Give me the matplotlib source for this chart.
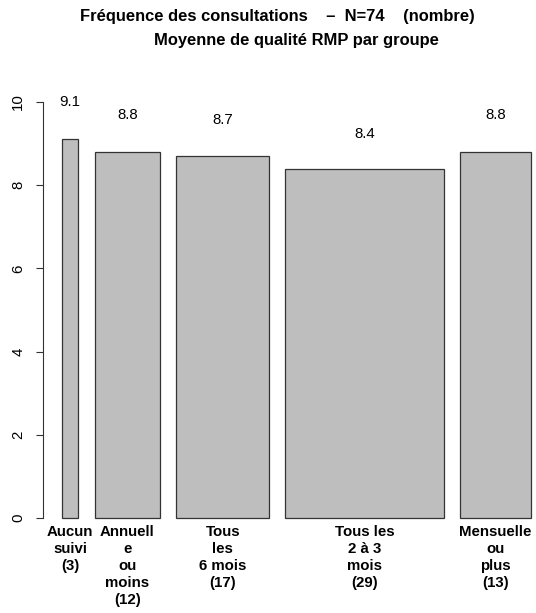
import matplotlib
matplotlib.use("Agg")
import matplotlib.pyplot as plt
import numpy as np

plt.rcParams['font.family'] = ['Liberation Sans', 'DejaVu Sans']

categories = ["Aucun\nsuivi\n(3)", "Annuell\ne\nou\nmoins\n(12)", "Tous\nles\n6 mois\n(17)",
              "Tous les\n2 à 3\nmois\n(29)", "Mensuelle\nou\nplus\n(13)"]
counts = [3, 12, 17, 29, 13]
means = [9.1, 8.8, 8.7, 8.4, 8.8]
yticks = [0, 2, 4, 6, 8, 10]

W, H = 536, 613
fig = plt.figure(figsize=(W / 100, H / 100), dpi=100)

widths = np.array(counts, dtype=float)
space = 0.2 * widths.mean()
lefts = []
x = space
for w in widths:
    lefts.append(x)
    x += w + space
lefts = np.array(lefts)
centers = lefts + widths / 2
xmin, xmax = lefts[0], lefts[-1] + widths[-1]
pad = 0.04 * (xmax - xmin)

# axes placed like R's plot region (extends past right edge)
left_px, right_px = 43.3, 549.7
top_px, bot_px = 85.4, 534.6
ax = fig.add_axes([left_px / W, 1 - bot_px / H, (right_px - left_px) / W, (bot_px - top_px) / H])
ax.set_xlim(xmin - pad, xmax + pad)
ax.set_ylim(-0.4, 10.4)

ax.bar(lefts, means, width=widths, align='edge', color='#bebebe', edgecolor='#333333', linewidth=0.9)

for c, m in zip(centers, means):
    ax.text(c, m * 1.1, f"{m:.1f}", ha='center', va='center', fontsize=10.8)

for c, lab in zip(centers, categories):
    ax.text(c, -0.17, lab, ha='center', va='top', fontsize=10.8, fontweight='bold', linespacing=1.28)

for s in ['top', 'right', 'bottom']:
    ax.spines[s].set_visible(False)
ax.spines['left'].set_bounds(0, 10)
ax.spines['left'].set_color('#333333')
ax.set_yticks(yticks)
ax.set_yticklabels([str(t) for t in yticks], rotation=90, va='center', fontsize=10.8)
ax.tick_params(axis='y', length=5, width=0.8, color='#333333', pad=8)
ax.set_xticks([])

cx = (left_px + right_px) / 2 / W
fig.text(cx - 19 / W, 1 - 17 / H, "Fréquence des consultations    –  N=74    (nombre)", ha='center', va='center',
         fontsize=11.9, fontweight='bold')
fig.text(cx, 1 - 40 / H, "Moyenne de qualité RMP par groupe", ha='center', va='center',
         fontsize=11.9, fontweight='bold')

fig.savefig("out.png", dpi=100)
